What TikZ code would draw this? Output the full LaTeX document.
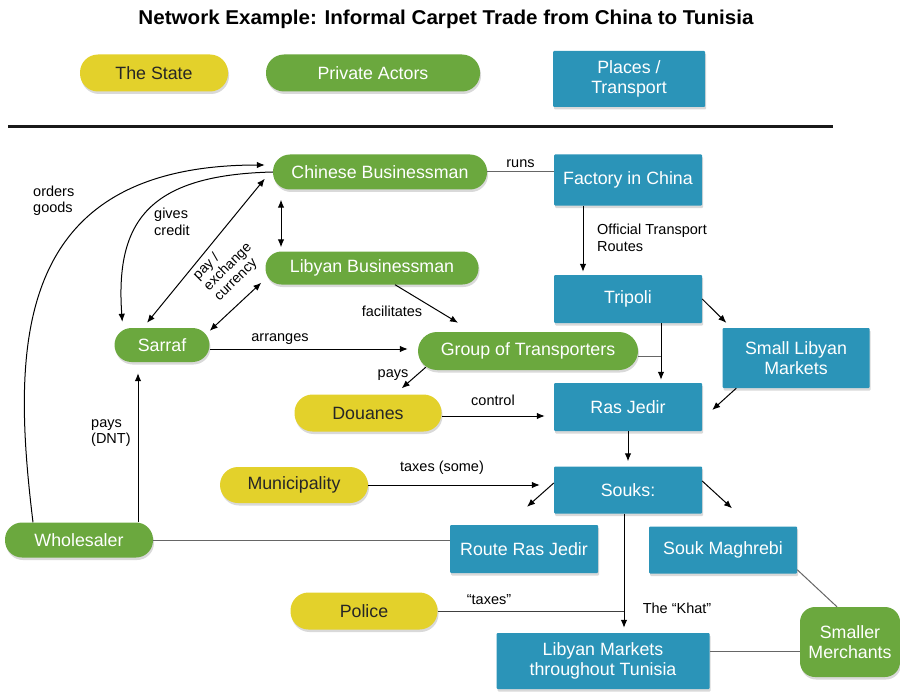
\documentclass[tikz,border=0pt]{standalone}
\usepackage{fontspec}
\setmainfont{Liberation Sans}
\usetikzlibrary{arrows.meta,shadows,calc}
\definecolor{cyel}{HTML}{E3D12B}
\definecolor{cgrn}{HTML}{6BA83E}
\definecolor{cblu}{HTML}{2B94B8}
\newcommand\nodefont{\fontsize{17.8}{20.5}\selectfont}
\newcommand\labfont{\fontsize{14.5}{16.5}\selectfont}
\begin{document}
\begin{tikzpicture}[x=1pt,y=-1pt,
  box/.style={rectangle, inner sep=0pt, align=center, font=\nodefont,
    drop shadow={shadow xshift=1pt,shadow yshift=-2.5pt,opacity=0.3}},
  yel/.style={box, fill=cyel, text=black!85},
  grn/.style={box, fill=cgrn, text=white},
  blu/.style={box, fill=cblu, text=white, rounded corners=1pt},
  lab/.style={font=\labfont, inner sep=1pt, text=black},
  arr/.style={-{Latex[length=8pt,width=6.5pt]}, line width=1pt, black},
  dbl/.style={{Latex[length=8pt,width=6.5pt]}-{Latex[length=8pt,width=6.5pt]}, line width=1pt, black},
  pln/.style={line width=1pt, black!60},
  ttl/.style={font=\bfseries\fontsize{20}{22}\selectfont, inner sep=0pt}
]
\useasboundingbox (0,0) rectangle (900,698);

% title and legend
\node[ttl] (title) at (446,19) {\scalebox{1.03}[1]{Network Example: Informal Carpet Trade from China to Tunisia}};
\node[yel, minimum width=148pt, minimum height=37pt, rounded corners=18pt] (stateL) at (154,73) {The State};
\node[grn, minimum width=214pt, minimum height=37pt, rounded corners=18pt] (privL) at (373,73) {Private Actors};
\node[blu, minimum width=152pt, minimum height=56pt] (placeL) at (629,79) {Places /\\Transport};
\coordinate (sepL) at (8,127);
\coordinate (sepR) at (833,127);
\draw[line width=3pt, black!90] (sepL) -- (sepR);

% actors
\node[grn, minimum width=214pt, minimum height=35pt, rounded corners=17pt] (cb) at (380,172) {Chinese Businessman};
\node[grn, minimum width=213pt, minimum height=33pt, rounded corners=16pt] (lb) at (372,268) {Libyan Businessman};
\node[grn, minimum width=95pt, minimum height=34pt, rounded corners=17pt] (sarraf) at (162,345) {Sarraf};
\node[grn, minimum width=220pt, minimum height=38pt, rounded corners=19pt] (got) at (528,351) {Group of Transporters};
\node[yel, minimum width=147pt, minimum height=37pt, rounded corners=18pt] (douanes) at (368,413) {Douanes};
\node[yel, minimum width=148pt, minimum height=36pt, rounded corners=18pt] (muni) at (294,485) {Municipality};
\node[grn, minimum width=148pt, minimum height=35pt, rounded corners=17pt] (wholesaler) at (79,540) {Wholesaler};
\node[yel, minimum width=147pt, minimum height=37pt, rounded corners=18pt] (police) at (364,611) {Police};
\node[grn, minimum width=100pt, minimum height=70pt, rounded corners=15pt] (smaller) at (850,642) {Smaller\\Merchants};

% places
\node[blu, minimum width=148pt, minimum height=51pt] (factory) at (628,180) {Factory in China};
\node[blu, minimum width=148pt, minimum height=48pt] (tripoli) at (628,299) {Tripoli};
\node[blu, minimum width=147pt, minimum height=60pt] (slm) at (796,358) {Small Libyan\\Markets};
\node[blu, minimum width=148pt, minimum height=48pt] (ras) at (628,407) {Ras Jedir};
\node[blu, minimum width=148pt, minimum height=47pt] (souks) at (628,490) {Souks:};
\node[blu, minimum width=148pt, minimum height=48pt] (route) at (524,549) {Route Ras Jedir};
\node[blu, minimum width=148pt, minimum height=47pt] (maghrebi) at (723,550) {Souk Maghrebi};
\node[blu, minimum width=213pt, minimum height=56pt] (lmt) at (603,661) {Libyan Markets\\throughout Tunisia};

% helper coordinates
\coordinate (ftop) at ([xshift=-45pt]factory.south);
\coordinate (trj) at ([xshift=33pt]tripoli.south);
\coordinate (gE) at ([yshift=-5pt]got.east);
\coordinate (dE) at ([yshift=-3pt]douanes.east);
\coordinate (kh) at ([xshift=-4pt]souks.south);
\coordinate (lE) at ([yshift=10pt]lmt.east);
\coordinate (wp) at ([xshift=59pt]wholesaler.north);
\coordinate (og1) at ([xshift=-46pt]wholesaler.north);
\coordinate (og2) at ([xshift=-8pt,yshift=7pt]cb.west);
\coordinate (cl) at ([xshift=-99pt]cb.south);
\coordinate (sE) at ([yshift=-4pt]sarraf.east);

% connectors
\draw[pln] (cb.east) -- (cb.east -| factory.west) node[lab, midway, above=3pt] (runsL) {runs};
\draw[arr, shorten >=3pt] (ftop) -- (ftop |- tripoli.north);
\node[lab, anchor=west, align=left] (otrL) at (596,238) {Official Transport\\Routes};
\draw[arr] (tripoli.east) -- ([xshift=4pt,yshift=5pt]slm.north west);
\draw[arr, shorten >=3pt] (trj) -- (trj |- ras.north);
\draw[pln] (gE) -- (gE -| trj);
\draw[arr] ([xshift=14pt]slm.south west) -- ([xshift=10pt,yshift=-3pt]ras.east);
\draw[arr, shorten >=5pt] (ras.south) -- (souks.north);
\draw[arr, shorten >=9pt] (dE) -- (dE -| ras.west);
\node[lab] (ctrlL) at (493,400) {control};
\draw[arr, shorten >=14pt] (muni.east) -- (muni.east -| souks.west);
\node[lab] (taxL) at (442,468) {taxes (some)};
\draw[arr] ([yshift=7pt]souks.west) -- ([xshift=3pt,yshift=18pt]route.north);
\draw[arr] ([yshift=9pt]souks.east) -- ([xshift=9pt,yshift=18pt]maghrebi.north);
\draw[arr, shorten >=5pt] (kh) -- (kh |- lmt.north);
\node[lab] (khatL) at (677,608) {The “Khat”};
\draw[pln, black!75] (police.east) -- (police.east -| kh);
\node[lab] (ptaxL) at (489,600) {“taxes”};
\draw[pln] ([yshift=4pt]maghrebi.south east) -- ([xshift=-13pt]smaller.north);
\draw[pln] (lE) -- (lE -| smaller.west);
\draw[pln] (wholesaler.east) -- (wholesaler.east -| route.west);
\draw[arr, shorten >=11pt] (wp) -- (wp |- sarraf.south);
\node[lab, anchor=west, align=left] (paysDL) at (90,433) {pays\\(DNT)};
\draw[arr] (og1) .. controls (12,350) and (10,165) .. (og2);
\node[lab, anchor=west, align=left] (ogL) at (32,201) {orders\\goods};
\draw[arr] (cb.west) .. controls (150,175) and (115,220) .. ([xshift=8pt,yshift=6pt]sarraf.north west);
\node[lab, anchor=west, align=left] (gcL) at (153,222) {gives\\credit};
\draw[dbl] ([xshift=-15pt,yshift=5pt]sarraf.north) -- ([xshift=-8pt,yshift=11pt]cb.south west);
\draw[dbl, shorten <=10pt, shorten >=4pt] (cl) -- (cl |- lb.north);
\draw[dbl] ([yshift=-3pt]sarraf.north east) -- ([xshift=-4pt,yshift=2pt]lb.south west);
\node[lab, rotate=45, align=left, font=\fontsize{14}{15}\selectfont] (peL) at (228,267) {pay /\\exchange\\currency};
\draw[arr] ([xshift=23pt]lb.south) -- ([xshift=-70pt,yshift=9pt]got.north);
\node[lab] (facL) at (392,311) {facilitates};
\draw[arr, shorten >=10pt] (sE) -- (sE -| got.west);
\node[lab] (arrL) at (280,339) {arranges};
\draw[arr] ([xshift=8pt,yshift=3pt]got.south west) -- ([xshift=-40pt,yshift=6pt]douanes.north east);
\node[lab] (paysL) at (393,375) {pays};
\end{tikzpicture}
\end{document}
